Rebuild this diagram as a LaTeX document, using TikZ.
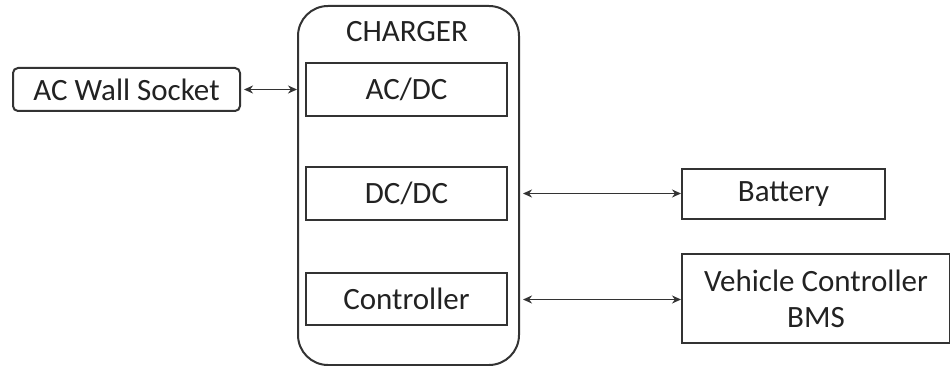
\documentclass[tikz,border=0pt]{standalone}
\usepackage{fontspec}
\setmainfont{Carlito}
\usetikzlibrary{arrows.meta}
\definecolor{ln}{HTML}{333333}
\definecolor{tx}{HTML}{222222}
\tikzset{
  box/.style={draw=ln, line width=2pt, inner sep=0pt, text=tx, font=\fontsize{31}{36}\selectfont, align=center},
  rbox/.style={box, rounded corners=5pt},
  conn/.style={draw=ln, line width=1.6pt, {Stealth[length=9pt,width=8pt]}-{Stealth[length=9pt,width=8pt]}},
}
\begin{document}
\begin{tikzpicture}[x=1pt,y=-1pt]
\useasboundingbox (0,0) rectangle (950,366);
\node[box, rounded corners=30pt, minimum width=221pt, minimum height=359pt, anchor=north west] (charger) at (297,5) {};
\node[text=tx, font=\fontsize{31}{36}\selectfont] (title) at (407,32) {CHARGER};
\node[rbox, minimum width=227pt, minimum height=43pt] (ac) at (126.5,89.5) {AC Wall Socket};
\node[box, minimum width=201pt, minimum height=53pt] (acdc) at (406.5,89.5) {AC/DC};
\node[box, minimum width=201pt, minimum height=53pt] (dcdc) at (406.5,193.5) {DC/DC};
\node[box, minimum width=201pt, minimum height=52pt] (ctrl) at (406.5,299) {Controller};
\node[box, minimum width=203pt, minimum height=50pt] (bat) at (783.5,194) {Battery};
\node[box, minimum width=268pt, minimum height=89pt, font=\fontsize{31}{36}\selectfont] (veh) at (816,298.5) {Vehicle Controller\\BMS};
\draw[conn] (ac.east) ++(3,0) coordinate (a1) -- (a1 -| charger.west);
\coordinate (b1) at (523,193.5);
\draw[conn] (b1) -- (b1 -| bat.west);
\coordinate (c1) at (523,299.5);
\draw[conn] (c1) -- (c1 -| veh.west);
\end{tikzpicture}
\end{document}
